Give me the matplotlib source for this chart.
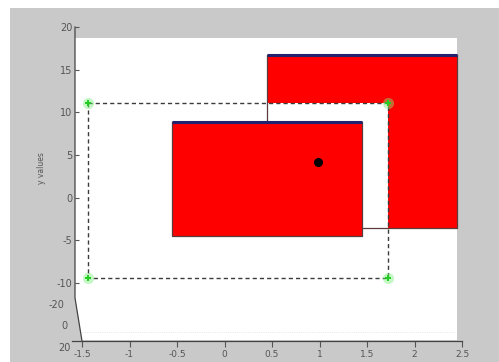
#!/usr/bin/env python3
# -*- coding: utf-8 -*-
"""
Two red boxes seen from above, with a dashed selection frame.
"""

import matplotlib
matplotlib.use('Agg')
import matplotlib.pyplot
from matplotlib.patches import Rectangle, Polygon

# data
front_x = [-0.55, 1.45]
front_y = [-4.5, 8.85]
back_x = [0.45, 2.45]
back_y = [-3.55, 16.7]
frame_x = [-1.44, 1.72]
frame_y = [-9.4, 11.1]
point_x = [0.98]
point_y = [4.2]
x_ticks = [-1.5, -1, -0.5, 0, 0.5, 1, 1.5, 2, 2.5]
x_labels = ['-1.5', '-1', '-0.5', '0', '0.5', '1', '1.5', '2', '2.5']
y_ticks = [-10, -5, 0, 5, 10, 15, 20]
y_labels = ['-10', '-5', '0', '5', '10', '15', '20']
z_labels = ['-20', '0', '20']

W, H = 499, 362
AX_L, AX_R, AX_T, AX_B = 75, 462, 27, 341


def px_fig(px, py):
    return px / W, (H - py) / H


def px_ax(px, py):
    return (px - AX_L) / (AX_R - AX_L), (AX_B - py) / (AX_B - AX_T)


def box(ax, xs, ys, zorder):
    ax.add_patch(Rectangle((xs[0], ys[0]), xs[1] - xs[0], ys[1] - ys[0],
                           facecolor='#ff0000', edgecolor='none',
                           zorder=zorder))


def outline(ax, xs, ys, zorder):
    ax.plot([xs[0], xs[0], xs[1], xs[1]], [ys[1], ys[0], ys[0], ys[1]],
            color='#5a3a3a', lw=0.9, zorder=zorder)
    ax.plot(xs, [ys[1], ys[1]], color='#22226e', lw=2.2, zorder=zorder,
            solid_capstyle='butt')


def main():
    figure = matplotlib.pyplot.figure(figsize=(W / 100, H / 100), dpi=100)
    figure.patch.set_facecolor('white')
    background = figure.add_axes([0, 0, 1, 1], zorder=-5)
    background.set_axis_off()
    background.set_xlim(0, 1)
    background.set_ylim(0, 1)
    x0, y0 = px_fig(10, H)
    background.add_patch(Rectangle((x0, y0), 1 - x0, (H - 8) / H,
                                   facecolor='#c9c9c9', edgecolor='none'))

    left, bottom = px_fig(AX_L, AX_B)
    ax = figure.add_axes([left, bottom, (AX_R - AX_L) / W,
                          (AX_B - AX_T) / H])
    ax.patch.set_visible(False)
    for spine in ax.spines.values():
        spine.set_visible(False)
    ax.set_xlim(-1.574, 2.5)
    ax.set_ylim(-16.8, 20)

    # white back plane with slanted lower-left corner
    plane = [px_ax(75, 38), px_ax(457, 38), px_ax(457, 340),
             px_ax(82, 340), px_ax(75, 298)]
    ax.add_patch(Polygon(plane, closed=True, transform=ax.transAxes,
                         facecolor='white', edgecolor='none', zorder=0))

    # axis lines
    pts = [px_ax(75, 27), px_ax(75, 298), px_ax(82, 341)]
    ax.plot([p[0] for p in pts], [p[1] for p in pts], color='#444444',
            lw=0.9, transform=ax.transAxes, clip_on=False, zorder=8)
    a, b = px_ax(72, 341), px_ax(462, 341)
    ax.plot([a[0], b[0]], [a[1], b[1]], color='#444444', lw=0.9,
            transform=ax.transAxes, clip_on=False, zorder=8)
    a, b = px_ax(82, 332), px_ax(455, 332)
    ax.plot([a[0], b[0]], [a[1], b[1]], color='#dddddd', lw=0.6, ls=':',
            transform=ax.transAxes, zorder=1)

    # back box, hidden by the plane, edges still drawn
    box(ax, back_x, back_y, 1)
    ax.add_patch(Rectangle((frame_x[0], frame_y[0]),
                           frame_x[1] - frame_x[0], frame_y[1] - frame_y[0],
                           facecolor='white', edgecolor='none', zorder=2))
    outline(ax, back_x, back_y, 3)

    # front box
    box(ax, front_x, front_y, 4)
    outline(ax, front_x, front_y, 4.5)

    # dashed frame with green corners
    ax.plot([frame_x[0], frame_x[1], frame_x[1], frame_x[0], frame_x[0]],
            [frame_y[1], frame_y[1], frame_y[0], frame_y[0], frame_y[1]],
            color='#3c3c3c', lw=1.0, ls=(0, (3, 2.2)), zorder=5)
    cx = [frame_x[0], frame_x[1], frame_x[1], frame_x[0]]
    cy = [frame_y[1], frame_y[1], frame_y[0], frame_y[0]]
    ax.plot(cx, cy, ls='none', marker='o', ms=8, color='#7cf07c',
            alpha=0.45, mec='none', zorder=6)
    ax.plot(cx, cy, ls='none', marker='+', ms=5, mew=1.4, color='#22cc22',
            zorder=6)

    ax.plot(point_x, point_y, ls='none', marker='o', ms=5.5, color='black',
            zorder=7)

    # ticks
    ax.set_xticks(x_ticks)
    ax.set_xticklabels(x_labels)
    ax.set_yticks(y_ticks)
    ax.set_yticklabels(y_labels)
    ax.tick_params(axis='x', direction='out', length=4, width=0.8,
                   colors='#555555', labelsize=6.5, pad=2.5)
    ax.tick_params(axis='y', direction='in', length=3, width=0.8,
                   colors='#555555', labelsize=7, pad=2)

    # z axis labels on the slanted part
    for label, (px, py) in zip(z_labels, [(64, 305), (67, 326), (71, 348)]):
        fx, fy = px_fig(px, py)
        figure.text(fx, fy, label, ha='right', va='center', fontsize=7,
                    color='#555555')
    fx, fy = px_fig(42, 168)
    figure.text(fx, fy, 'y values', rotation=90, ha='center', va='center',
                fontsize=5.5, color='#555555')

    figure.savefig('out.png', dpi=100)
    matplotlib.pyplot.close()


if __name__ == '__main__':
    main()
